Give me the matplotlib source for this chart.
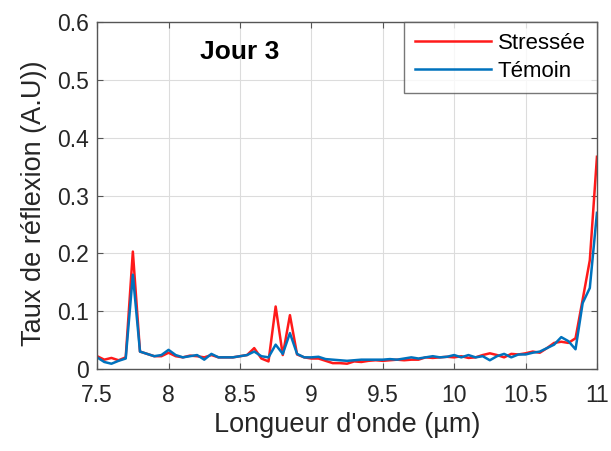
import matplotlib
matplotlib.use('Agg')
import matplotlib.pyplot as plt
import numpy as np

plt.rcParams['font.family'] = ['Liberation Sans', 'DejaVu Sans']

# longueurs d'onde (µm), pas de 0.05
wavelength = np.round(np.arange(7.5, 11.0001, 0.05), 2)

stressee = [0.022, 0.016, 0.019, 0.015, 0.020, 0.203, 0.030, 0.026, 0.022, 0.022,
            0.028, 0.022, 0.020, 0.023, 0.022, 0.020, 0.024, 0.020, 0.020, 0.020,
            0.022, 0.024, 0.036, 0.018, 0.013, 0.108, 0.024, 0.093, 0.025, 0.020,
            0.018, 0.018, 0.014, 0.010, 0.010, 0.009, 0.013, 0.012, 0.014, 0.015,
            0.014, 0.015, 0.016, 0.015, 0.016, 0.016, 0.020, 0.019, 0.020, 0.021,
            0.020, 0.022, 0.019, 0.020, 0.024, 0.027, 0.024, 0.020, 0.026, 0.025,
            0.027, 0.030, 0.028, 0.036, 0.045, 0.047, 0.045, 0.053, 0.120, 0.188,
            0.367]

temoin = [0.020, 0.012, 0.009, 0.014, 0.018, 0.163, 0.030, 0.026, 0.022, 0.024,
          0.033, 0.024, 0.020, 0.022, 0.024, 0.016, 0.026, 0.020, 0.020, 0.020,
          0.022, 0.024, 0.030, 0.022, 0.020, 0.042, 0.026, 0.062, 0.026, 0.020,
          0.020, 0.021, 0.017, 0.016, 0.015, 0.014, 0.015, 0.016, 0.016, 0.016,
          0.016, 0.017, 0.016, 0.018, 0.020, 0.018, 0.020, 0.022, 0.020, 0.021,
          0.024, 0.020, 0.024, 0.020, 0.022, 0.015, 0.022, 0.026, 0.020, 0.025,
          0.025, 0.028, 0.030, 0.036, 0.042, 0.055, 0.048, 0.034, 0.114, 0.140,
          0.270]

xticks = [7.5, 8, 8.5, 9, 9.5, 10, 10.5, 11]
xticklabels = ['7.5', '8', '8.5', '9', '9.5', '10', '10.5', '11']
yticks = [0, 0.1, 0.2, 0.3, 0.4, 0.5, 0.6]
yticklabels = ['0', '0.1', '0.2', '0.3', '0.4', '0.5', '0.6']

fig = plt.figure(figsize=(6.11, 4.51), dpi=100)
ax = fig.add_axes([0.159, 0.182, 0.818, 0.769])

ax.plot(wavelength, stressee, color='#ff1a1a', lw=1.8, label='Stressée')
ax.plot(wavelength, temoin, color='#0072bd', lw=1.8, label='Témoin')

ax.set_xlim(7.5, 11)
ax.set_ylim(0, 0.6)
ax.set_xticks(xticks)
ax.set_xticklabels(xticklabels)
ax.set_yticks(yticks)
ax.set_yticklabels(yticklabels)
ax.tick_params(direction='in', labelsize=16.5, length=4, top=True, right=True,
               labelcolor='#262626', colors='#555555')
ax.tick_params(axis='x', pad=10.5)
ax.tick_params(axis='y', pad=6)
ax.grid(True, color='#dcdcdc', lw=0.8)
ax.set_axisbelow(True)
for s in ax.spines.values():
    s.set_color('#555555')
    s.set_linewidth(1.0)

ax.set_xlabel("Longueur d'onde (µm)", fontsize=19.5, color='#262626', labelpad=4)
ax.set_ylabel('Taux de réflexion (A.U))', fontsize=19.5, color='#262626',
              labelpad=7, y=0.477)

ax.text(8.5, 0.537, 'Jour 3', fontsize=19, fontweight='bold', ha='center', va='baseline')

leg = ax.legend(loc='upper right', fontsize=16, frameon=True, fancybox=False,
                borderaxespad=0.0, handlelength=3.45, handletextpad=0.3,
                labelspacing=0.3, borderpad=0.5)
leg.get_frame().set_edgecolor('#555555')
leg.get_frame().set_linewidth(1.0)

plt.savefig('out.png', dpi=100)
